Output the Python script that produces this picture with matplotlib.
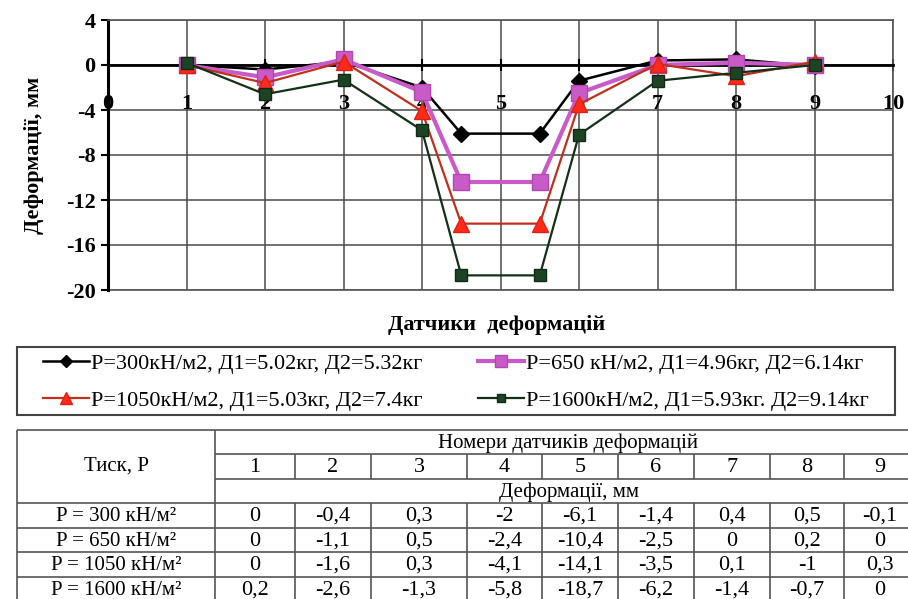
import matplotlib
matplotlib.use('Agg')
import matplotlib.pyplot as plt
from matplotlib.patches import Rectangle

plt.rcParams['font.family'] = ['Liberation Serif', 'DejaVu Serif']
plt.rcParams['axes.unicode_minus'] = False

# sensor numbers and measured deformations, mm (from the table)
sensors = [1, 2, 3, 4, 5, 6, 7, 8, 9]
pressures = [300, 650, 1050, 1600]
def_300 = [0, -0.4, 0.3, -2, -6.1, -1.4, 0.4, 0.5, -0.1]
def_650 = [0, -1.1, 0.5, -2.4, -10.4, -2.5, 0, 0.2, 0]
def_1050 = [0, -1.6, 0.3, -4.1, -14.1, -3.5, 0.1, -1, 0.3]
def_1600 = [0.2, -2.6, -1.3, -5.8, -18.7, -6.2, -1.4, -0.7, 0]

# on the chart sensor 5 is drawn twice, at 4.5 and 5.5
x_chart = [1, 2, 3, 4, 4.5, 5.5, 6, 7, 8, 9]

legend_labels = ['P=300кН/м2, Д1=5.02кг, Д2=5.32кг',
                 'P=650 кН/м2, Д1=4.96кг, Д2=6.14кг',
                 'P=1050кН/м2, Д1=5.03кг, Д2=7.4кг',
                 'P=1600кН/м2, Д1=5.93кг. Д2=9.14кг']


def chart_vals(v):
    return v[:5] + [v[4]] + v[5:]


def fmt(v):
    return ('%g' % v).replace('.', ',')


fig = plt.figure(figsize=(9.08, 5.99), dpi=100)
W, H = 908, 599
ax = fig.add_axes([108 / W, 1 - 290 / H, 785 / W, 270 / H])

l1, = ax.plot(x_chart, chart_vals(def_300), color='black', lw=1.8, marker='D',
              ms=8, mfc='black', mec='black', zorder=3)
l2, = ax.plot(x_chart, chart_vals(def_650), color='#c95bc9', lw=3, marker='s',
              ms=11, mfc='#c95bc9', mec='#b048b0', zorder=4)
l3, = ax.plot(x_chart, chart_vals(def_1050), color='#c0301c', lw=1.6, marker='^',
              ms=11, mfc='#ff2a1a', mec='#e02010', zorder=5)
l4, = ax.plot(x_chart, chart_vals(def_1600), color='#143018', lw=1.6, marker='s',
              ms=8, mfc='#1c4424', mec='#102a14', zorder=6)

ax.set_xlim(0, 10)
ax.set_ylim(-20, 4)
ax.set_xticks(range(0, 11))
ax.set_yticks(range(-20, 5, 4))
ax.grid(True, color='#4a4a4a', lw=1.1)
ax.set_axisbelow(True)

for s in ['top', 'right']:
    ax.spines[s].set_color('#555555')
    ax.spines[s].set_linewidth(1.2)
ax.spines['left'].set_color('black')
ax.spines['left'].set_linewidth(2.2)
ax.spines['bottom'].set_position(('data', 0))
ax.spines['bottom'].set_color('black')
ax.spines['bottom'].set_linewidth(2)
ax.axhline(-20, color='#555555', lw=1.2, clip_on=False, zorder=1)

ax.tick_params(axis='x', direction='inout', length=8, width=1.5, pad=17,
               labelsize=16)
ax.tick_params(axis='y', direction='out', length=5, width=1.5, pad=4,
               labelsize=16)
for t in ax.get_xticklabels() + ax.get_yticklabels():
    t.set_fontweight('bold')

ax.set_ylabel('Деформації, мм', fontsize=16, fontweight='bold', labelpad=16)
fig.text(497 / W, 1 - 325 / H, 'Датчики  деформацій', fontsize=16,
         fontweight='bold', ha='center', va='center')

# legend fills row by row in the reference; frame drawn separately
leg = fig.legend([l1, l3, l2, l4],
                 [legend_labels[0], legend_labels[2], legend_labels[1], legend_labels[3]],
                 ncol=2, loc='center',
                 bbox_to_anchor=(456 / W, 1 - 382 / H),
                 fontsize=16, frameon=False,
                 handlelength=2.05, handletextpad=0.1, borderpad=0,
                 labelspacing=0.75, columnspacing=2.5)
for h in leg.legend_handles:
    h.set_markersize(h.get_markersize() * 0.8)
fig.patches.append(Rectangle((17 / W, 1 - 415 / H), 878 / W, 68 / H,
                             transform=fig.transFigure, fill=False,
                             edgecolor='#444444', lw=1.5))

# table below the chart, drawn in pixel coordinates
tx = fig.add_axes([0, 0, 1, 1])
tx.set_xlim(0, W)
tx.set_ylim(H, 0)
tx.axis('off')

col_edges = [17, 215, 295, 371, 467, 542, 618, 694, 770, 844, 918]
row_edges = [430, 454, 479, 503, 528, 552, 577, 602]
lc = '#555555'
lw = 1.2

tx.hlines([row_edges[0], row_edges[3], row_edges[4], row_edges[5], row_edges[6]],
          col_edges[0], W, color=lc, lw=lw)
tx.hlines([row_edges[1], row_edges[2]], col_edges[1], W, color=lc, lw=lw)
tx.vlines([col_edges[0], col_edges[1]], row_edges[0], H, color=lc, lw=lw)
tx.vlines(col_edges[2:-1], row_edges[1], row_edges[2], color=lc, lw=lw)
tx.vlines(col_edges[2:-1], row_edges[3], H, color=lc, lw=lw)

fs = 15
fn = 16
tx.text((col_edges[0] + col_edges[1]) / 2, (row_edges[0] + row_edges[3]) / 2,
        'Тиск, P', fontsize=fs, ha='center', va='center')
tx.text(568, (row_edges[0] + row_edges[1]) / 2 + 1, 'Номери датчиків деформацій',
        fontsize=fs, ha='center', va='center')
tx.text(569, (row_edges[2] + row_edges[3]) / 2 + 1, 'Деформації, мм',
        fontsize=fs, ha='center', va='center')
for i, n in enumerate(sensors):
    xc = (col_edges[i + 1] + col_edges[i + 2]) / 2
    if i == 8:
        xc = 880
    tx.text(xc, (row_edges[1] + row_edges[2]) / 2 + 1, str(n), fontsize=fn,
            ha='center', va='center')

rows = [def_300, def_650, def_1050, def_1600]
for r, (p, vals) in enumerate(zip(pressures, rows)):
    yc = (row_edges[r + 3] + row_edges[r + 4]) / 2 + 1
    tx.text((col_edges[0] + col_edges[1]) / 2, yc, 'P = %d кН/м²' % p,
            fontsize=fs, ha='center', va='center')
    for i, v in enumerate(vals):
        xc = (col_edges[i + 1] + col_edges[i + 2]) / 2
        if i == 8:
            xc = 880
        tx.text(xc, yc, fmt(v), fontsize=fn, ha='center', va='center')

fig.savefig('out.png', dpi=100)
